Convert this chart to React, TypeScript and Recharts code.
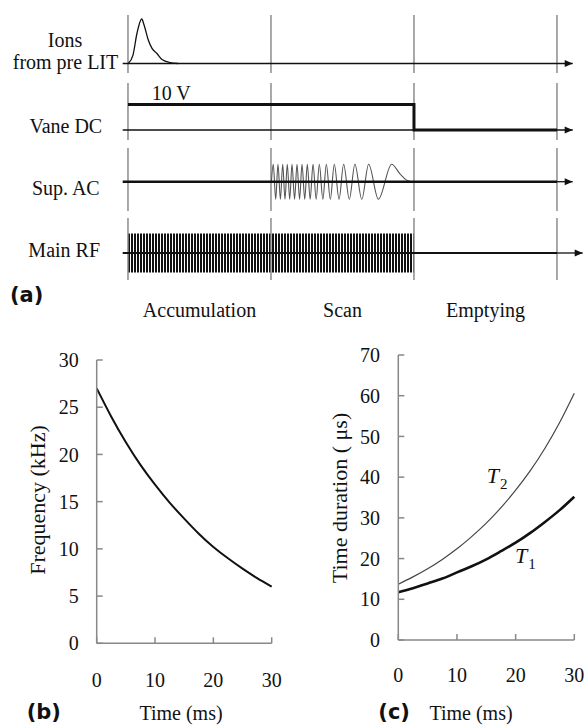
import React from 'react';
import {
  LineChart,
  Line,
  XAxis,
  YAxis,
  ReferenceLine,
  ReferenceArea,
  ReferenceDot,
} from 'recharts';

const serif = '"Liberation Serif", "Times New Roman", serif';
const sans = '"DejaVu Sans", Arial, sans-serif';

// (a) timing diagram, time in phase units: 0-100 accumulation, 100-200 scan, 200-300 emptying
const phaseEdges = [0, 100, 200, 300];
const phaseNames = ['Accumulation', 'Scan', 'Emptying'];
const phaseCenters = [50, 150, 250];

const ionsPulse = [
  { t: 0.2, v: 0 },
  { t: 3.5, v: 0.19 },
  { t: 6.3, v: 0.68 },
  { t: 9.6, v: 1 },
  { t: 11.2, v: 0.87 },
  { t: 14.2, v: 0.53 },
  { t: 16.8, v: 0.34 },
  { t: 20.1, v: 0.23 },
  { t: 23.8, v: 0.09 },
  { t: 29.4, v: 0.02 },
  { t: 35, v: 0 },
];

const vaneDc = [
  { t: 0, v: 10 },
  { t: 200, v: 10 },
  { t: 200, v: 0 },
  { t: 300, v: 0 },
];

const supAcPeaks = [101.6, 104.9, 108.2, 111.4, 114.7, 118.2, 121.7, 125.4, 129.4, 133.8, 138.7, 144.3, 150.8, 158.7, 168.3, 184.4];
const supAcTroughs = [103.3, 106.6, 109.8, 113.1, 116.5, 120.0, 123.6, 127.4, 131.6, 136.3, 141.5, 147.6, 154.8, 163.5, 175.1];
const supAcTail = [
  { t: 190.2, v: 0.45 },
  { t: 194.9, v: 0.09 },
  { t: 198.4, v: 0 },
];

const rfSpan = [0, 200];

// (b) frequency sweep
const sweepTime = [0, 2.5, 5, 7.5, 10, 12.5, 15, 17.5, 20, 22.5, 25, 27.5, 30];
const sweepFreq = [27, 24.0, 21.3, 18.9, 16.8, 14.9, 13.2, 11.6, 10.2, 9.0, 7.9, 6.9, 6.0];

// (c) time durations
const t1Values = [11.7, 12.7, 13.9, 15.1, 16.6, 18.1, 19.8, 21.8, 23.9, 26.3, 29.0, 31.9, 35.2];
const t2Values = [13.7, 15.5, 17.5, 19.8, 22.4, 25.4, 28.7, 32.5, 36.8, 41.6, 47.1, 53.4, 60.6];

const supAcWave = [
  { t: 100.3, v: 0 },
  ...[...supAcPeaks.map((t) => ({ t, v: 1 })), ...supAcTroughs.map((t) => ({ t, v: -1 }))].sort((a, b) => a.t - b.t),
  ...supAcTail,
];

const sweepData = sweepTime.map((t, i) => ({ t, f: sweepFreq[i] }));
const durationData = sweepTime.map((t, i) => ({ t, T1: t1Values[i], T2: t2Values[i] }));

const X_DOMAIN: [number, number] = [-89.5, 321];
const AXIS_START = -3.7;

const arrowHead = (p: any) => (
  <path
    d={`M${p.cx},${p.cy} L${p.cx - 8},${p.cy - 3.5} L${p.cx - 8},${p.cy + 3.5} Z`}
    fill="#111"
  />
);

const baseline = (key: string, x1: number, x2: number, w: number) => (
  <ReferenceLine
    key={key}
    segment={[{ x: x1, y: 0 }, { x: x2, y: 0 }]}
    stroke="#111"
    strokeWidth={w}
  />
);

const dividers = phaseEdges.map((x) => (
  <ReferenceLine key={`d${x}`} x={x} stroke="#8c8c8c" strokeWidth={1.5} />
));

const Track = ({ top, height, yDomain, children }: any) => (
  <div style={{ position: 'absolute', left: 0, top }}>
    <LineChart width={587} height={height} margin={{ top: 0, right: 0, bottom: 0, left: 0 }}>
      <XAxis type="number" dataKey="t" domain={X_DOMAIN} hide allowDataOverflow />
      <YAxis type="number" domain={yDomain} hide allowDataOverflow />
      {dividers}
      {children}
    </LineChart>
  </div>
);

const Txt = ({ x, top, w, align, size = 20, font = serif, bold, children }: any) => (
  <div
    style={{
      position: 'absolute',
      left: align === 'center' ? x - w / 2 : x,
      top,
      width: w,
      textAlign: align || 'left',
      fontFamily: font,
      fontSize: size,
      fontWeight: bold ? 700 : 400,
      lineHeight: 1,
      whiteSpace: 'nowrap',
      color: '#111',
    }}
  >
    {children}
  </div>
);

const VTxt = ({ cx, cy, children }: any) => (
  <div
    style={{
      position: 'absolute',
      left: cx,
      top: cy,
      transform: 'translate(-50%, -50%) rotate(-90deg)',
      fontFamily: serif,
      fontSize: 22,
      lineHeight: 1,
      whiteSpace: 'nowrap',
      color: '#111',
    }}
  >
    {children}
  </div>
);

const tickStyle = { fontSize: 20, fontFamily: serif, fill: '#111' };
const axisStyle = { stroke: '#888', strokeWidth: 1.5 };

const App = () => {
  return (
    <div style={{ position: 'absolute', left: 0, top: 0, width: 587, height: 727, background: '#fff' }}>
      <svg width={0} height={0} style={{ position: 'absolute' }}>
        <defs>
          <pattern id="rfStripes" patternUnits="userSpaceOnUse" x={128} y={0} width={3} height={10}>
            <rect x={0} y={0} width={2} height={10} fill="#111" />
          </pattern>
        </defs>
      </svg>

      {/* Ions from pre LIT */}
      <Track top={15} height={58} yDomain={[-0.213, 1.09]}>
        {baseline('b', AXIS_START, 311, 1.3)}
        <ReferenceDot x={311} y={0} r={4} shape={arrowHead} />
        <Line data={ionsPulse} dataKey="v" type="monotone" stroke="#111" strokeWidth={1.3} dot={false} isAnimationActive={false} />
      </Track>

      {/* Vane DC */}
      <Track top={83} height={57} yDomain={[-3.92, 18.43]}>
        {baseline('b', AXIS_START, 311, 1.3)}
        <ReferenceDot x={311} y={0} r={4} shape={arrowHead} />
        <Line data={vaneDc} dataKey="v" type="linear" stroke="#111" strokeWidth={3} dot={false} isAnimationActive={false} />
      </Track>

      {/* Sup. AC */}
      <Track top={148} height={63} yDomain={[-1.674, 1.926]}>
        <Line data={supAcWave} dataKey="v" type="monotone" stroke="#555" strokeWidth={1.1} dot={false} isAnimationActive={false} />
        {baseline('b1', AXIS_START, 300, 2.5)}
        {baseline('b2', 300, 311, 1.3)}
        <ReferenceDot x={311} y={0} r={4} shape={arrowHead} />
      </Track>

      {/* Main RF */}
      <Track top={218} height={62} yDomain={[-1.385, 1.795]}>
        <ReferenceArea x1={rfSpan[0]} x2={rfSpan[1]} y1={-1} y2={1} fill="url(#rfStripes)" fillOpacity={1} stroke="none" />
        {baseline('b1', AXIS_START, 300, 2.2)}
        {baseline('b2', 300, 318, 1.3)}
        <ReferenceDot x={318} y={0} r={4} shape={arrowHead} />
      </Track>

      <Txt x={65} w={140} align="center" top={30}>Ions</Txt>
      <Txt x={65.5} w={140} align="center" top={51.5}>from pre LIT</Txt>
      <Txt x={151.7} w={60} top={83.3}>10 V</Txt>
      <Txt x={65.8} w={140} align="center" top={115.6}>Vane DC</Txt>
      <Txt x={65.8} w={140} align="center" top={177.5}>Sup. AC</Txt>
      <Txt x={64.2} w={140} align="center" top={240}>Main RF</Txt>
      <Txt x={10} w={60} top={285} size={21} font={sans} bold>(a)</Txt>
      {phaseNames.map((name, i) => (
        <Txt key={name} x={128 + phaseCenters[i] * 1.43} w={140} align="center" top={299.8}>
          {name}
        </Txt>
      ))}

      {/* (b) */}
      <div style={{ position: 'absolute', left: 0, top: 340 }}>
        <LineChart width={300} height={387} data={sweepData} margin={{ top: 20, right: 28.3, bottom: 0, left: 0 }}>
          <XAxis
            type="number"
            dataKey="t"
            domain={[0, 30]}
            ticks={[0, 10, 20, 30]}
            interval={0}
            height={83.7}
            axisLine={axisStyle}
            tickLine={axisStyle}
            tickSize={-6}
            tickMargin={35.5}
            tick={tickStyle}
          />
          <YAxis
            type="number"
            domain={[0, 30]}
            ticks={[0, 5, 10, 15, 20, 25, 30]}
            interval={0}
            width={96.7}
            axisLine={axisStyle}
            tickLine={axisStyle}
            tickSize={-6}
            tickMargin={24}
            tick={tickStyle}
          />
          <Line dataKey="f" type="natural" stroke="#111" strokeWidth={2} dot={false} isAnimationActive={false} />
        </LineChart>
      </div>
      <VTxt cx={37.5} cy={500}>Frequency (kHz)</VTxt>
      <Txt x={181} w={140} align="center" top={703.2}>Time (ms)</Txt>
      <Txt x={26.7} w={60} top={701.5} size={21} font={sans} bold>(b)</Txt>

      {/* (c) */}
      <div style={{ position: 'absolute', left: 300, top: 330 }}>
        <LineChart width={287} height={397} data={durationData} margin={{ top: 25, right: 12.7, bottom: 0, left: 0 }}>
          <XAxis
            type="number"
            dataKey="t"
            domain={[0, 30]}
            ticks={[0, 10, 20, 30]}
            interval={0}
            height={87}
            axisLine={axisStyle}
            tickLine={axisStyle}
            tickSize={-6}
            tickMargin={34}
            tick={tickStyle}
          />
          <YAxis
            type="number"
            domain={[0, 70]}
            ticks={[0, 10, 20, 30, 40, 50, 60, 70]}
            interval={0}
            width={98.3}
            axisLine={axisStyle}
            tickLine={axisStyle}
            tickSize={-6}
            tickMargin={24.3}
            tick={tickStyle}
          />
          <Line dataKey="T2" type="natural" stroke="#444" strokeWidth={1.2} dot={false} isAnimationActive={false} />
          <Line dataKey="T1" type="natural" stroke="#111" strokeWidth={2.6} dot={false} isAnimationActive={false} />
        </LineChart>
      </div>
      <VTxt cx={340} cy={498}>Time duration ( μs)</VTxt>
      <Txt x={471} w={140} align="center" top={703.2}>Time (ms)</Txt>
      <Txt x={378.3} w={60} top={701.5} size={21} font={sans} bold>(c)</Txt>

      <Txt x={486.7} w={40} top={464.5} size={22}>
        <i>T</i>
        <span style={{ fontSize: 15, position: 'relative', top: 6, marginLeft: 1 }}>2</span>
      </Txt>
      <Txt x={515} w={40} top={544.5} size={22}>
        <i>T</i>
        <span style={{ fontSize: 15, position: 'relative', top: 6.5, marginLeft: 1 }}>1</span>
      </Txt>
    </div>
  );
};

export default App;
